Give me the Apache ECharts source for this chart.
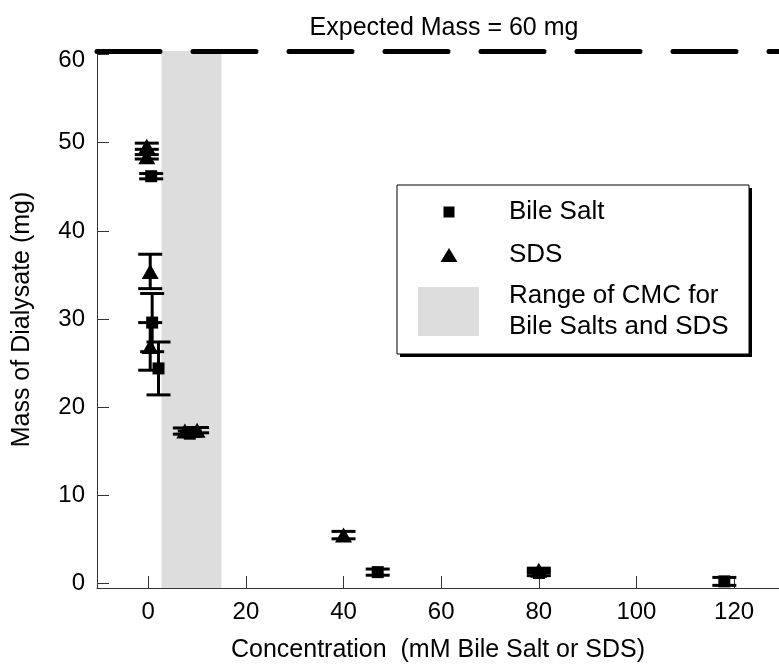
<!DOCTYPE html>
<html>
<head>
<meta charset="utf-8">
<script src="https://cdn.jsdelivr.net/npm/echarts@6/dist/echarts.min.js"></script>
<style>
  html, body { margin: 0; padding: 0; background: #fff; }
  #chart { width: 779px; height: 666px; }
</style>
</head>
<body>
<div id="chart"></div>
<script>
// Bile salt points (concentration mM, mass mg, +/- error)
var bileX   = [0.6, 0.8, 2.1, 8.5, 47, 80, 118];
var bileY   = [46.2, 29.6, 24.4, 17.0, 1.3, 1.2, 0.25];
var bileErr = [0.3, 3.3, 3.0, 0.3, 0.35, 0.3, 0.45];

// SDS points
var sdsX   = [-0.3, -0.3, 0.4, 0.4, 7.5, 10, 40, 80];
var sdsY   = [49.6, 48.4, 35.4, 26.9, 17.3, 17.4, 5.5, 1.5];
var sdsErr = [0.35, 0.25, 1.95, 2.7, 0.35, 0.3, 0.42, 0.25];

var cmcRange = [2.7, 15];          // range of CMC, mM
var expectedLine = 60.4;           // drawn at top of plot
var xTicks = [0, 20, 40, 60, 80, 100, 120];
var yTicks = [0, 10, 20, 30, 40, 50, 60];

var FONT = 'Liberation Sans, Arial, sans-serif';

function pts(xs, ys, es) {
    var out = [];
    for (var i = 0; i < xs.length; i++) {
        out.push(es ? [xs[i], ys[i], es[i]] : [xs[i], ys[i]]);
    }
    return out;
}

// error bar with caps
function renderErr(params, api) {
    var x = api.value(0), y = api.value(1), e = api.value(2);
    var top = api.coord([x, y + e]);
    var bot = api.coord([x, y - e]);
    var hw = 12;
    var st = { stroke: '#000', lineWidth: 3 };
    return {
        type: 'group',
        children: [
            { type: 'line', shape: { x1: top[0], y1: top[1], x2: bot[0], y2: bot[1] }, style: st },
            { type: 'line', shape: { x1: top[0] - hw, y1: top[1], x2: top[0] + hw, y2: top[1] }, style: st },
            { type: 'line', shape: { x1: bot[0] - hw, y1: bot[1], x2: bot[0] + hw, y2: bot[1] }, style: st }
        ]
    };
}

var chart = echarts.init(document.getElementById('chart'));

var option = {
    animation: false,
    grid: { left: 97, right: 0, top: 51, bottom: 78, outerBoundsMode: 'none' },
    xAxis: {
        type: 'value',
        min: -10.5,
        max: 129.2,
        name: 'Concentration  (mM Bile Salt or SDS)',
        nameLocation: 'middle',
        nameGap: 50,
        nameTextStyle: { fontFamily: FONT, fontSize: 25, color: '#000' },
        axisLine: { onZero: false, lineStyle: { color: '#333', width: 1 } },
        axisTick: { inside: true, length: 12, customValues: xTicks, lineStyle: { color: '#333' } },
        axisLabel: { customValues: xTicks, margin: 12, fontFamily: FONT, fontSize: 24, color: '#000' },
        splitLine: { show: false }
    },
    yAxis: {
        type: 'value',
        min: -0.5,
        max: expectedLine,
        name: 'Mass of Dialysate (mg)',
        nameLocation: 'middle',
        nameGap: 62,
        nameTextStyle: { fontFamily: FONT, fontSize: 25, color: '#000' },
        axisLine: { show: true, onZero: false, lineStyle: { color: '#333', width: 1 } },
        axisTick: { show: true, inside: true, length: 12, customValues: yTicks, lineStyle: { color: '#333' } },
        axisLabel: {
            customValues: yTicks,
            margin: 12,
            fontFamily: FONT,
            fontSize: 24,
            color: '#000',
            formatter: function (v) { return v === 60 ? '{t|60}' : String(v); },
            rich: { t: { fontFamily: FONT, fontSize: 24, color: '#000', padding: [12, 0, 0, 0] } }
        },
        splitLine: { show: false }
    },
    graphic: [
        { type: 'text', style: { text: 'Expected Mass = 60 mg', x: 444, y: 28, fontFamily: FONT, fontSize: 25, fill: '#000', textAlign: 'center', textVerticalAlign: 'middle' }, z: 100 },
        // legend box with drop shadow
        { type: 'rect', shape: { x: 400, y: 188, width: 352, height: 169 }, style: { fill: '#000' }, z: 100 },
        { type: 'rect', shape: { x: 397, y: 185, width: 352, height: 169 }, style: { fill: '#fff', stroke: '#000', lineWidth: 1 }, z: 101 },
        { type: 'rect', shape: { x: 443.5, y: 206.5, width: 11, height: 11 }, style: { fill: '#000' }, z: 102 },
        { type: 'polygon', shape: { points: [[449, 248], [457.5, 262], [440.5, 262]] }, style: { fill: '#000' }, z: 102 },
        { type: 'rect', shape: { x: 418, y: 287, width: 61, height: 49 }, style: { fill: '#dddddd' }, z: 102 },
        { type: 'text', style: { text: 'Bile Salt', x: 509, y: 212, fontFamily: FONT, fontSize: 26, fill: '#000', textVerticalAlign: 'middle' }, z: 102 },
        { type: 'text', style: { text: 'SDS', x: 509, y: 255, fontFamily: FONT, fontSize: 26, fill: '#000', textVerticalAlign: 'middle' }, z: 102 },
        { type: 'text', style: { text: 'Range of CMC for', x: 509, y: 296, fontFamily: FONT, fontSize: 26, fill: '#000', textVerticalAlign: 'middle' }, z: 102 },
        { type: 'text', style: { text: 'Bile Salts and SDS', x: 509, y: 327, fontFamily: FONT, fontSize: 26, fill: '#000', textVerticalAlign: 'middle' }, z: 102 }
    ],
    series: [
        {
            type: 'scatter',
            name: 'band',
            data: [],
            clip: false,
            silent: true,
            markArea: {
                silent: true,
                itemStyle: { color: '#dddddd' },
                data: [[{ xAxis: cmcRange[0] }, { xAxis: cmcRange[1] }]]
            },
            markLine: {
                silent: true,
                symbol: 'none',
                label: { show: false },
                lineStyle: { color: '#000', width: 5, type: [63, 33], cap: 'round' },
                data: [{ yAxis: expectedLine }]
            },
            z: 1
        },
        {
            type: 'custom',
            name: 'bileErr',
            data: pts(bileX, bileY, bileErr),
            renderItem: renderErr,
            z: 3
        },
        {
            type: 'custom',
            name: 'sdsErr',
            data: pts(sdsX, sdsY, sdsErr),
            renderItem: renderErr,
            z: 3
        },
        {
            type: 'scatter',
            name: 'Bile Salt',
            symbol: 'rect',
            symbolSize: 12,
            itemStyle: { color: '#000', opacity: 1 },
            data: pts(bileX, bileY),
            z: 4
        },
        {
            type: 'scatter',
            name: 'SDS',
            symbol: 'triangle',
            symbolSize: [17, 15],
            itemStyle: { color: '#000', opacity: 1 },
            data: pts(sdsX, sdsY),
            z: 4
        }
    ]
};

chart.setOption(option);
</script>
</body>
</html>
